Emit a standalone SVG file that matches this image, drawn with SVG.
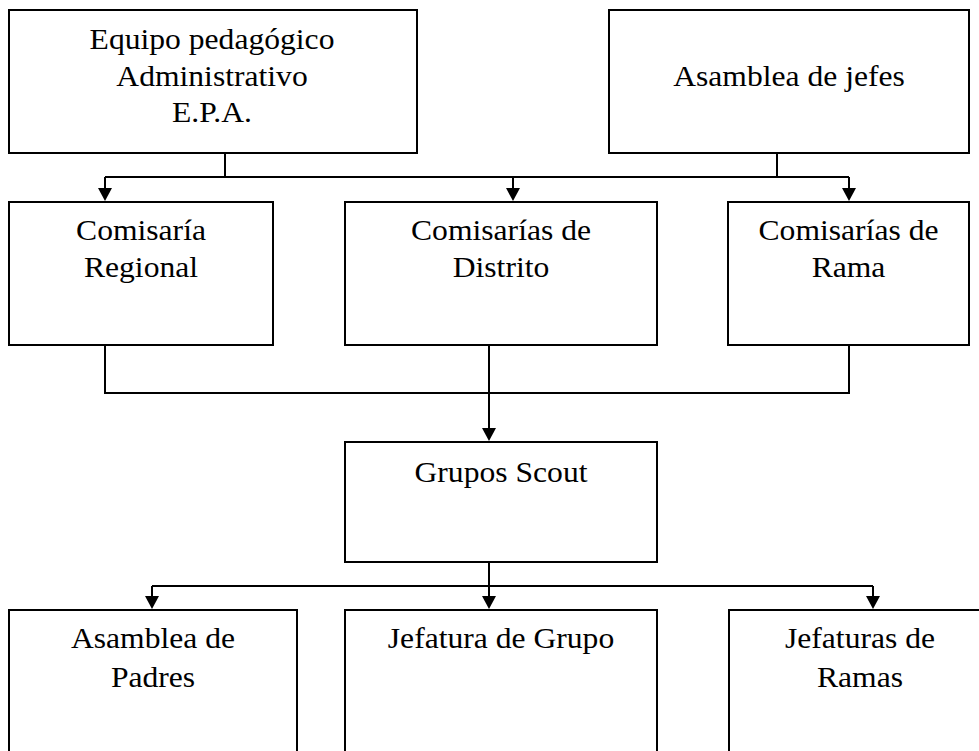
<svg xmlns="http://www.w3.org/2000/svg" width="979" height="751" viewBox="0 0 979 751">
<style>
.box{fill:#fff;stroke:#000;stroke-width:2}
.ln{fill:none;stroke:#000;stroke-width:2}
.ah{fill:#000}
text{font-family:'Liberation Serif','Times New Roman',serif;font-size:29px;fill:#000;text-anchor:middle}
</style>
<rect width="979" height="751" fill="#fff"/>
<g id="connectors">
<path class="ln" d="M225,153 V177 M777,153 V177 M105,177 H849 M105,177 V190 M513,177 V190 M849,177 V190"/>
<path class="ah" d="M98,188 L112,188 L105,201 Z"/>
<path class="ah" d="M506,188 L520,188 L513,201 Z"/>
<path class="ah" d="M842,188 L856,188 L849,201 Z"/>
<path class="ln" d="M105,345 V393 H849 V345 M489,345 V430"/>
<path class="ah" d="M482,428 L496,428 L489,441 Z"/>
<path class="ln" d="M489,562 V586 M152,586 H873 M152,586 V598 M489,586 V598 M873,586 V598"/>
<path class="ah" d="M145,596 L159,596 L152,609 Z"/>
<path class="ah" d="M482,596 L496,596 L489,609 Z"/>
<path class="ah" d="M866,596 L880,596 L873,609 Z"/>
</g>
<g id="epa">
<rect class="box" x="9" y="10" width="408" height="143"/>
<text transform="translate(212,0) scale(1.09,1)" y="49">Equipo pedagógico</text>
<text transform="translate(212,0) scale(1.09,1)" y="86">Administrativo</text>
<text transform="translate(212,0) scale(1.09,1)" y="122">E.P.A.</text>
</g>
<g id="asamblea-jefes">
<rect class="box" x="609" y="10" width="360" height="143"/>
<text transform="translate(789,0) scale(1.09,1)" y="86">Asamblea de jefes</text>
</g>
<g id="comisaria-regional">
<rect class="box" x="9" y="202" width="264" height="143"/>
<text transform="translate(141,0) scale(1.09,1)" y="240">Comisaría</text>
<text transform="translate(141,0) scale(1.09,1)" y="277">Regional</text>
</g>
<g id="comisarias-distrito">
<rect class="box" x="345" y="202" width="312" height="143"/>
<text transform="translate(501,0) scale(1.09,1)" y="240">Comisarías de</text>
<text transform="translate(501,0) scale(1.09,1)" y="277">Distrito</text>
</g>
<g id="comisarias-rama">
<rect class="box" x="728" y="202" width="241" height="143"/>
<text transform="translate(848.5,0) scale(1.09,1)" y="240">Comisarías de</text>
<text transform="translate(848.5,0) scale(1.09,1)" y="277">Rama</text>
</g>
<g id="grupos-scout">
<rect class="box" x="345" y="442" width="312" height="120"/>
<text transform="translate(501,0) scale(1.09,1)" y="482">Grupos Scout</text>
</g>
<g id="asamblea-padres">
<rect class="box" x="9" y="610" width="288" height="160"/>
<text transform="translate(153,0) scale(1.09,1)" y="648">Asamblea de</text>
<text transform="translate(153,0) scale(1.09,1)" y="687">Padres</text>
</g>
<g id="jefatura-grupo">
<rect class="box" x="345" y="610" width="312" height="160"/>
<text transform="translate(501,0) scale(1.09,1)" y="648">Jefatura de Grupo</text>
</g>
<g id="jefaturas-ramas">
<rect class="box" x="729" y="610" width="262" height="160"/>
<text transform="translate(860,0) scale(1.09,1)" y="648">Jefaturas de</text>
<text transform="translate(860,0) scale(1.09,1)" y="687">Ramas</text>
</g>
</svg>
